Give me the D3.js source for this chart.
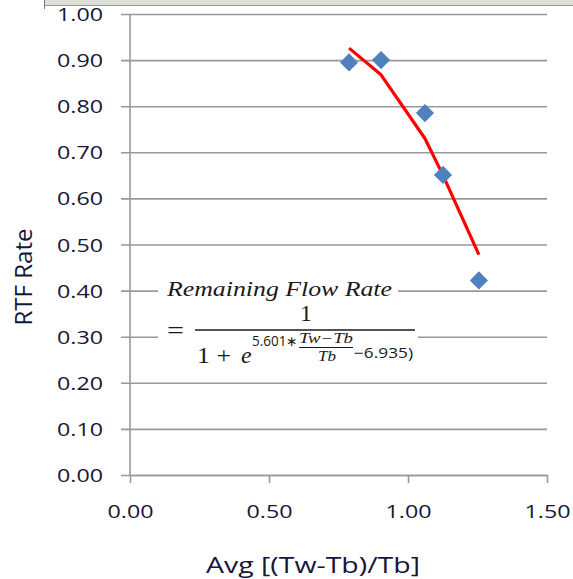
<!DOCTYPE html>
<html>
<head>
<meta charset="utf-8">
<script src="https://cdn.jsdelivr.net/npm/d3@7"></script>
<style>
  body { margin: 0; background: #fff; }
  svg { display: block; }
  .tick text { font-family: "Open Sans", sans-serif; font-size: 18px; font-weight: 500; fill: #16163a; }
</style>
</head>
<body>
<svg id="chart" width="573" height="579"></svg>
<script>
// values
const avgRatio = [0.788, 0.903, 1.061, 1.126, 1.255];
const rtfRate = [0.895, 0.900, 0.785, 0.651, 0.422];
const fitRate = [0.926, 0.868, 0.730, 0.650, 0.478];
const xTicks = [0, 0.5, 1.0, 1.5];
const yTicks = [0, 0.1, 0.2, 0.3, 0.4, 0.5, 0.6, 0.7, 0.8, 0.9, 1.0];

const svg = d3.select('#chart');
const plotLeft = 130, plotRight = 547, plotTop = 14, plotBottom = 475;

const x = d3.scaleLinear().domain([0, 1.5]).range([plotLeft, plotRight]);
const y = d3.scaleLinear().domain([0, 1]).range([plotBottom, plotTop]);

// bout de barre d'outils coupée en haut
svg.append('rect').attr('x', 44).attr('y', 0).attr('width', 529).attr('height', 5).attr('fill', '#dcdfd6');
svg.append('line').attr('x1', 44).attr('x2', 573).attr('y1', 5.5).attr('y2', 5.5).attr('stroke', '#9a9a9a');
svg.append('line').attr('x1', 44.5).attr('x2', 44.5).attr('y1', 0).attr('y2', 9).attr('stroke', '#777');

// axe Y + grille
const yAxis = svg.append('g')
    .attr('transform', `translate(${plotLeft},0)`)
    .call(d3.axisLeft(y).tickValues(yTicks).tickFormat(d3.format('.2f')).tickSize(9).tickPadding(27));
yAxis.select('.domain').remove();
yAxis.selectAll('.tick line')
    .attr('x1', -9).attr('x2', plotRight - plotLeft)
    .attr('stroke', '#999').attr('stroke-width', 1.6);
yAxis.selectAll('.tick text')
    .attr('dy', '6.5').attr('x', -27)
    .attr('textLength', 46).attr('lengthAdjust', 'spacingAndGlyphs');

// axe X
const xAxis = svg.append('g')
    .attr('transform', `translate(0,${plotBottom})`)
    .call(d3.axisBottom(x).tickValues(xTicks).tickFormat(d3.format('.2f')).tickSize(8).tickSizeOuter(0));
xAxis.select('.domain').attr('stroke', '#999').attr('stroke-width', 1.6);
xAxis.selectAll('.tick line').attr('stroke', '#999').attr('stroke-width', 1.6);
xAxis.selectAll('.tick text')
    .attr('y', 43).attr('dy', 0)
    .attr('textLength', 46).attr('lengthAdjust', 'spacingAndGlyphs');

// ligne verticale de l'axe Y
svg.append('line')
    .attr('x1', plotLeft).attr('x2', plotLeft).attr('y1', plotTop).attr('y2', plotBottom)
    .attr('stroke', '#999').attr('stroke-width', 1.6);

// boîte blanche de l'équation (cache la grille)
svg.append('rect').attr('x', 158).attr('y', 277).attr('width', 240).attr('height', 24).attr('fill', '#fff');
svg.append('rect').attr('x', 158).attr('y', 301).attr('width', 260).attr('height', 72).attr('fill', '#fff');

// courbe ajustée
const fitPts = avgRatio.map((v, i) => [v, fitRate[i]]);
svg.append('path')
    .datum(fitPts)
    .attr('d', d3.line().x(d => x(d[0])).y(d => y(d[1])))
    .attr('fill', 'none').attr('stroke', '#ff0000').attr('stroke-width', 3.2)
    .attr('stroke-linejoin', 'round');

// points mesurés
svg.selectAll('.pt')
    .data(avgRatio.map((v, i) => [v, rtfRate[i]]))
    .join('path')
    .attr('class', 'pt')
    .attr('d', d3.symbol(d3.symbolSquare, 165))
    .attr('transform', d => `translate(${x(d[0])},${y(d[1])}) rotate(45)`)
    .attr('fill', '#4f81bd');

// titres d'axes
svg.append('text')
    .attr('x', 313).attr('y', 573).attr('text-anchor', 'middle')
    .attr('font-family', 'Open Sans, sans-serif').attr('font-size', 21).attr('fill', '#16163a')
    .attr('textLength', 214).attr('lengthAdjust', 'spacingAndGlyphs')
    .text('Avg [(Tw-Tb)/Tb]');
svg.append('text')
    .attr('transform', 'translate(32,277) rotate(-90)').attr('text-anchor', 'middle')
    .attr('font-family', 'Open Sans, sans-serif').attr('font-size', 23).attr('fill', '#16163a')
    .attr('textLength', 97).attr('lengthAdjust', 'spacingAndGlyphs')
    .text('RTF Rate');

// équation
const eq = svg.append('g').attr('fill', '#1a1a1a');
const serif = 'Liberation Serif, DejaVu Serif, serif';
const sans = 'Open Sans, sans-serif';
function put(tx, px, py, size, fam, opts = {}) {
    const t = eq.append('text').attr('x', px).attr('y', py)
        .attr('font-family', fam).attr('font-size', size).text(tx);
    if (opts.italic) t.attr('font-style', 'italic');
    if (opts.len) t.attr('textLength', opts.len).attr('lengthAdjust', 'spacingAndGlyphs');
    if (opts.anchor) t.attr('text-anchor', opts.anchor);
    return t;
}
put('Remaining Flow Rate', 167, 296, 21, serif, { italic: true, len: 225 });
put('=', 167, 338, 24, serif, { len: 17 });
put('1', 306, 321, 24, serif, { anchor: 'middle' });
eq.append('line').attr('x1', 195).attr('x2', 415).attr('y1', 330).attr('y2', 330)
    .attr('stroke', '#1a1a1a').attr('stroke-width', 1.3);
put('1 +', 197, 363, 24, serif, { len: 34 });
put('e', 241, 363, 24, serif, { italic: true });
put('5.601∗', 252, 346, 14, sans, { len: 46 });
put('Tw−Tb', 299, 343, 14, serif, { italic: true, len: 54 });
eq.append('line').attr('x1', 299).attr('x2', 353).attr('y1', 347.5).attr('y2', 347.5)
    .attr('stroke', '#1a1a1a').attr('stroke-width', 1);
put('Tb', 318, 361, 14, serif, { italic: true, len: 18 });
put('−6.935)', 354, 358, 14, sans, { len: 59 });
</script>
</body>
</html>
